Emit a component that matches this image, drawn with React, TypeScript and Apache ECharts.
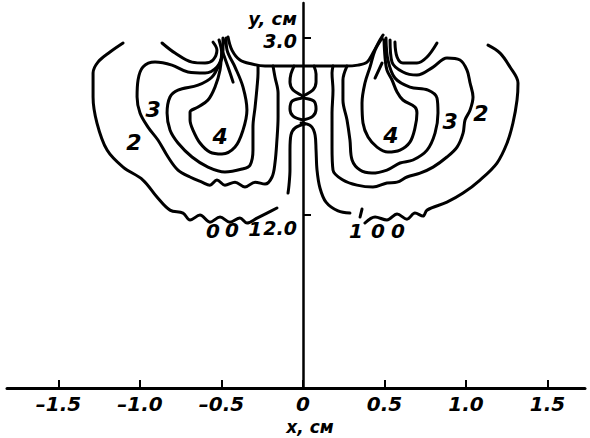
import { useEffect, useRef } from "react";
import * as echarts from "echarts";

// Axis ticks (cm)
const xTicks = [-1.5, -1.0, -0.5, 0, 0.5, 1.0, 1.5];
const yTicks = [2.0, 3.0];

// Contour lines, [x (cm), y (cm)]
const leftOuter = [[-1.104,2.972],[-1.184,2.921],[-1.258,2.864],[-1.288,2.802],[-1.288,2.667],[-1.264,2.520],[-1.202,2.367],[-1.104,2.271],[-0.982,2.198],[-0.896,2.102],[-0.816,2.028],[-0.736,2.011],[-0.693,1.972],[-0.632,2.000],[-0.571,1.960],[-0.509,1.989],[-0.448,1.960],[-0.387,1.983],[-0.344,1.955],[-0.282,1.983],[-0.221,2.011],[-0.160,2.040]];
const leftThird = [[-0.515,2.989],[-0.497,2.904],[-0.528,2.836],[-0.601,2.802],[-0.706,2.808],[-0.804,2.847],[-0.908,2.864],[-0.982,2.836],[-1.012,2.763],[-1.018,2.667],[-1.000,2.576],[-0.951,2.497],[-0.890,2.424],[-0.828,2.328],[-0.767,2.254],[-0.693,2.215],[-0.620,2.186],[-0.571,2.169],[-0.528,2.198],[-0.479,2.169],[-0.417,2.186],[-0.356,2.158],[-0.294,2.186],[-0.233,2.175],[-0.190,2.215],[-0.172,2.294],[-0.160,2.424],[-0.153,2.554],[-0.153,2.689],[-0.172,2.780],[-0.184,2.842]];
const leftSecond = [[-0.491,3.000],[-0.491,2.932],[-0.509,2.864],[-0.558,2.780],[-0.644,2.734],[-0.767,2.706],[-0.816,2.667],[-0.834,2.576],[-0.816,2.480],[-0.767,2.407],[-0.681,2.328],[-0.583,2.271],[-0.479,2.243],[-0.374,2.260],[-0.325,2.282],[-0.307,2.367],[-0.307,2.497],[-0.294,2.610],[-0.282,2.723],[-0.276,2.802],[-0.276,2.842]];
const leftInnermost = [[-0.485,2.989],[-0.497,2.932],[-0.509,2.819],[-0.540,2.723],[-0.583,2.650],[-0.644,2.610],[-0.693,2.582],[-0.693,2.537],[-0.675,2.480],[-0.632,2.407],[-0.571,2.356],[-0.497,2.345],[-0.417,2.384],[-0.368,2.480],[-0.344,2.593],[-0.368,2.723],[-0.417,2.836],[-0.466,2.932],[-0.472,3.000]];
const leftTail = [[-0.497,2.932],[-0.460,2.836],[-0.429,2.751]];
const leftFree = [[-0.865,2.972],[-0.785,2.915],[-0.681,2.864],[-0.601,2.859],[-0.552,2.876],[-0.528,2.932],[-0.552,2.977]];
const topBoundary = [[-0.460,3.006],[-0.436,2.932],[-0.387,2.876],[-0.313,2.853],[-0.233,2.842],[-0.100,2.842],[0,2.842],[0.100,2.842],[0.258,2.842],[0.337,2.847],[0.393,2.864],[0.429,2.915],[0.472,2.989],[0.491,3.017]];
const leftLoop = [[-0.055,2.842],[-0.074,2.797],[-0.080,2.751],[-0.061,2.706],[0,2.667],[-0.067,2.644],[-0.080,2.599],[-0.061,2.559],[0,2.537]];
const rightLoop = [[0.067,2.842],[0.080,2.797],[0.080,2.751],[0.061,2.706],[0,2.667],[0.067,2.644],[0.080,2.599],[0.061,2.559],[0,2.537]];
const leftInner = [[0.012,2.514],[-0.049,2.492],[-0.074,2.452],[-0.080,2.367],[-0.080,2.254],[-0.086,2.169],[-0.092,2.124]];
const rightInner = [[-0.012,2.520],[0.049,2.503],[0.074,2.452],[0.080,2.367],[0.086,2.254],[0.104,2.153],[0.141,2.073],[0.215,2.023],[0.288,2.011]];
const rightMark = [[0.362,2.034],[0.350,1.989]];
const rightInnermost = [[0.485,3.000],[0.442,2.932],[0.411,2.836],[0.380,2.746],[0.362,2.633],[0.368,2.520],[0.399,2.441],[0.454,2.384],[0.521,2.356],[0.595,2.367],[0.656,2.412],[0.687,2.492],[0.699,2.576],[0.687,2.610],[0.613,2.650],[0.577,2.695],[0.546,2.763],[0.515,2.819],[0.503,2.893],[0.497,2.989]];
const rightTail = [[0.485,2.859],[0.442,2.774]];
const rightSecond = [[0.509,3.000],[0.521,2.876],[0.564,2.774],[0.656,2.723],[0.767,2.706],[0.822,2.661],[0.828,2.576],[0.810,2.463],[0.761,2.367],[0.675,2.311],[0.595,2.294],[0.515,2.254],[0.423,2.237],[0.350,2.254],[0.301,2.311],[0.288,2.424],[0.270,2.537],[0.245,2.650],[0.245,2.763],[0.270,2.842]];
const rightThird = [[0.534,2.989],[0.546,2.864],[0.613,2.808],[0.699,2.791],[0.798,2.836],[0.883,2.887],[0.963,2.876],[1.006,2.819],[1.025,2.746],[1.043,2.667],[1.025,2.593],[0.994,2.537],[0.982,2.463],[0.945,2.384],[0.883,2.328],[0.798,2.271],[0.718,2.237],[0.638,2.215],[0.577,2.186],[0.515,2.181],[0.429,2.158],[0.331,2.169],[0.245,2.198],[0.184,2.254],[0.178,2.384],[0.178,2.576],[0.184,2.706],[0.178,2.802],[0.184,2.842]];
const rightFree = [[0.564,2.977],[0.577,2.893],[0.613,2.859],[0.699,2.859],[0.761,2.893],[0.822,2.972]];
const rightOuter = [[1.135,2.960],[1.209,2.915],[1.270,2.836],[1.319,2.746],[1.313,2.650],[1.288,2.520],[1.252,2.407],[1.190,2.294],[1.086,2.198],[0.982,2.124],[0.883,2.073],[0.761,2.028],[0.736,1.994],[0.687,2.011],[0.638,1.977],[0.577,2.006],[0.515,1.972],[0.442,1.989],[0.380,1.955]];

const contours = [leftOuter, leftThird, leftSecond, leftInnermost, leftTail, leftFree, topBoundary, leftLoop, rightLoop, leftInner, rightInner, rightMark, rightInnermost, rightTail, rightSecond, rightThird, rightFree, rightOuter];

// Contour level labels
const levelLabels = ["2", "3", "4", "4", "3", "2"];
const levelPositions = [[-1.037,2.412],[-0.920,2.599],[-0.509,2.441],[0.540,2.452],[0.902,2.531],[1.092,2.576]];
const endLabels = ["0", "0", "1", "1", "0", "0"];
const endPositions = [[-0.552,1.910],[-0.436,1.915],[-0.294,1.921],[0.325,1.910],[0.460,1.910],[0.583,1.910]];

const FONT = "'DejaVu Sans', Verdana, sans-serif";
const X_MIN = -1.816;
const X_MAX = 1.73;
const GRID_LEFT = 7;
const GRID_RIGHT = 5;

export default function App() {
  const ref = useRef<HTMLDivElement>(null);
  useEffect(() => {
    const chart = echarts.init(ref.current!, null, { renderer: "svg" });
    const plotW = 590 - GRID_LEFT - GRID_RIGHT;
    // place the y axis at x = 0 of the x scale
    const yAxisShift = (-X_MIN / (X_MAX - X_MIN)) * plotW;
    const lineSeries = contours.map((pts) => ({
      type: "line",
      data: pts,
      smooth: 0.35,
      symbol: "none",
      silent: true,
      clip: false,
      lineStyle: { color: "#000", width: 3, cap: "round", join: "round", opacity: 1 },
    }));
    const labelBase = {
      show: true,
      position: "inside",
      formatter: "{b}",
      color: "#000",
      opacity: 1,
      textBorderWidth: 0,
      textBorderColor: "transparent",
      fontStyle: "italic",
      fontWeight: "bold",
    };
    const option: any = {
      animation: false,
      backgroundColor: "#fff",
      grid: { left: GRID_LEFT, right: GRID_RIGHT, top: 3, bottom: 50, containLabel: false, outerBoundsMode: "none" },
      xAxis: {
        type: "value",
        min: X_MIN,
        max: X_MAX,
        name: "x, см",
        nameLocation: "middle",
        nameGap: 30,
        nameTextStyle: { fontFamily: FONT, fontSize: 17, fontStyle: "italic", fontWeight: "bold", color: "#000", padding: [0, 0, 0, 28] },
        axisLine: { onZero: false, lineStyle: { color: "#000", width: 3 } },
        axisTick: { inside: true, length: 8, customValues: xTicks, lineStyle: { color: "#000", width: 2 } },
        axisLabel: {
          customValues: xTicks,
          margin: 6,
          color: "#000",
          fontFamily: FONT,
          fontSize: 20,
          fontStyle: "italic",
          fontWeight: "bold",
          formatter: (v: number) => (v === 0 ? "0" : (v < 0 ? "–" : "") + Math.abs(v).toFixed(1)),
        },
        splitLine: { show: false },
      },
      yAxis: {
        type: "value",
        min: 1.023,
        max: 3.198,
        offset: -yAxisShift,
        name: "y, см",
        nameLocation: "end",
        nameGap: -24,
        nameTextStyle: { fontFamily: FONT, fontSize: 18, fontStyle: "italic", fontWeight: "bold", color: "#000", align: "right", verticalAlign: "bottom", padding: [0, 6, 0, 0] },
        axisLine: { onZero: false, lineStyle: { color: "#000", width: 2.5 } },
        axisTick: { inside: true, length: 8, customValues: yTicks, lineStyle: { color: "#000", width: 2 } },
        axisLabel: {
          customValues: yTicks,
          margin: 6,
          color: "#000",
          fontFamily: FONT,
          fontSize: 19,
          fontStyle: "italic",
          fontWeight: "bold",
          formatter: (v: number) => (v === 2 ? "{low|2.0}" : "{top|3.0}"),
          rich: {
            low: { fontFamily: FONT, fontSize: 19, fontStyle: "italic", fontWeight: "bold", color: "#000", padding: [26, 0, 0, 0] },
            top: { fontFamily: FONT, fontSize: 19, fontStyle: "italic", fontWeight: "bold", color: "#000", padding: [5, 0, 0, 0] },
          },
        },
        splitLine: { show: false },
      },
      series: [
        ...lineSeries,
        {
          type: "scatter",
          symbolSize: 0,
          silent: true,
          itemStyle: { opacity: 1 },
          data: levelLabels.map((t, i) => ({ name: t, value: levelPositions[i] })),
          label: { ...labelBase, fontFamily: FONT, fontSize: 22 },
        },
        {
          type: "scatter",
          symbolSize: 0,
          silent: true,
          itemStyle: { opacity: 1 },
          data: endLabels.map((t, i) => ({ name: t, value: endPositions[i] })),
          label: { ...labelBase, fontFamily: "'Liberation Sans Narrow', " + FONT, fontSize: 20 },
        },
      ],
    };
    chart.setOption(option);
    return () => chart.dispose();
  }, []);
  return <div ref={ref} style={{ position: "fixed", left: 0, top: 0, width: 590, height: 438, background: "#fff" }} />;
}
